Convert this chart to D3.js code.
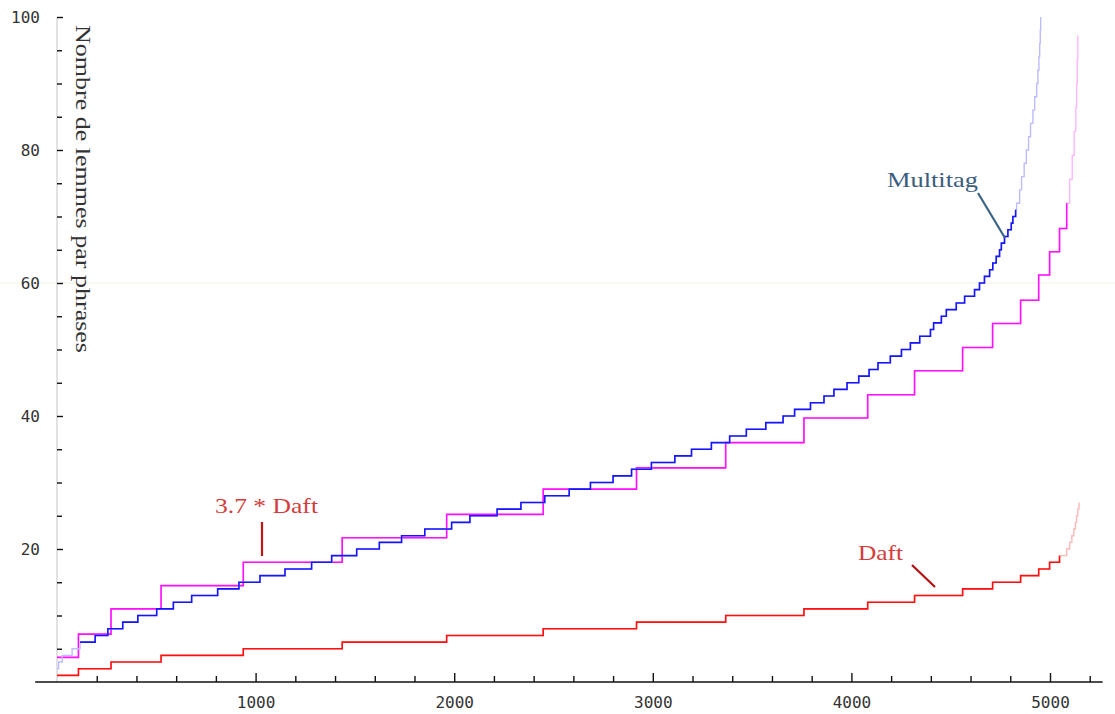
<!DOCTYPE html>
<html>
<head>
<meta charset="utf-8">
<script src="https://cdn.jsdelivr.net/npm/d3@7"></script>
<style>
  html, body { margin: 0; padding: 0; background: #ffffff; }
  svg { display: block; }
</style>
</head>
<body>
<svg id="chart" width="1115" height="714"></svg>
<script>
// ---------------- data ----------------
// x = sentence rank (sorted), y = number of lemmas per sentence; each pair starts a step
const multitagRank = [0, 8, 26, 76, 116, 192, 256, 331, 407, 502, 586, 678, 809, 916, 1022, 1148, 1282, 1383,
  1509, 1623, 1735, 1852, 1987, 2079, 2216, 2336, 2456, 2579, 2686, 2800, 2893, 2993, 3111, 3195, 3295, 3387,
  3471, 3569, 3656, 3714, 3794, 3862, 3912, 3978, 4037, 4089, 4134, 4196, 4252, 4297, 4344, 4398, 4414, 4453,
  4478, 4528, 4570, 4620, 4645, 4670, 4696, 4712, 4729, 4746, 4755, 4771, 4788, 4805, 4813, 4827,
  4832, 4847, 4857, 4870, 4881, 4892, 4902, 4914, 4923, 4933, 4939, 4944, 4948, 4951, 4953];
const multitagLemmas = [2, 3, 4, 5, 6, 7, 8, 9, 10, 11, 12, 13, 14, 15, 16, 17, 18, 19,
  20, 21, 22, 23, 24, 25, 26, 27, 28, 29, 30, 31, 32, 33, 34, 35, 36, 37,
  38, 39, 40, 41, 42, 43, 44, 45, 46, 47, 48, 49, 50, 51, 52, 53, 54, 55,
  56, 57, 58, 59, 60, 61, 62, 63, 64, 65, 66, 67, 68, 69, 70, 71,
  72, 74, 76, 78, 80, 82, 84, 86, 88, 90, 92, 94, 96, 98, 100];

const daftRank = [0, 108, 272, 524, 938, 1436, 1962, 2448, 2918, 3367, 3761, 4082, 4318, 4560, 4711, 4852,
  4943, 4998, 5048, 5084, 5099, 5110, 5120, 5128, 5134, 5140, 5146];
const daftLemmas = [1, 2, 3, 4, 5, 6, 7, 8, 9, 10, 11, 12, 13, 14, 15, 16,
  17, 18, 19, 20, 21, 22, 23, 24, 25, 26, 27];

const scaledRank = [0, 108, 272, 524, 938, 1436, 1962, 2448, 2918, 3367, 3761, 4082, 4318, 4560, 4711, 4852,
  4943, 4998, 5048, 5084, 5099, 5112, 5122, 5130, 5134, 5137, 5140];
const scaledLemmas = [3.7, 7.2, 11.0, 14.5, 18.0, 21.7, 25.2, 29.0, 32.2, 36.0, 39.7, 43.2, 46.8, 50.3, 53.9, 57.4,
  61.2, 64.7, 68.2, 72.0, 75.6, 79.2, 82.8, 86.4, 90.0, 93.6, 97.2];

const xMajorTicks = [1000, 2000, 3000, 4000, 5000];
const xMinorTicks = [200, 400, 600, 800, 1200, 1400, 1600, 1800, 2200, 2400, 2600, 2800, 3200, 3400, 3600, 3800,
  4200, 4400, 4600, 4800, 5200];
const yMajorTicks = [20, 40, 60, 80, 100];
const yMinorTicks = [5, 10, 15, 25, 30, 35, 45, 50, 55, 65, 70, 75, 85, 90, 95];

const yTitle = "Nombre de lemmes par phrases";
const labelMultitag = "Multitag";
const labelScaled = "3.7 * Daft";
const labelDaft = "Daft";

// ---------------- drawing ----------------
const svg = d3.select("#chart");
const x = d3.scaleLinear().domain([0, 5000]).range([57, 1050]);
const y = d3.scaleLinear().domain([0, 100]).range([682, 17]);

// faint guide at 60
svg.append("line")
  .attr("x1", 0).attr("x2", 1115)
  .attr("y1", y(60)).attr("y2", y(60))
  .attr("stroke", "#f1f1e6").attr("stroke-width", 1);

// y axis
const yAxisG = svg.append("g").attr("transform", `translate(${x(0)},0)`);
yAxisG.append("line")
  .attr("x1", 0).attr("x2", 0).attr("y1", y(100)).attr("y2", y(0))
  .attr("stroke", "#d9d9d9").attr("stroke-width", 1.5);
yAxisG.append("g")
  .call(d3.axisLeft(y).tickValues(yMinorTicks).tickSize(-5).tickFormat(""))
  .call(g => g.select(".domain").remove())
  .call(g => g.selectAll("line").attr("stroke", "#111").attr("stroke-width", 1.4));
yAxisG.append("g")
  .call(d3.axisLeft(y).tickValues(yMajorTicks).tickSize(-6).tickPadding(17))
  .call(g => g.select(".domain").remove())
  .call(g => g.selectAll("line").attr("stroke", "#111").attr("stroke-width", 1.4))
  .call(g => g.selectAll("text")
    .attr("font-family", "'DejaVu Sans Mono', monospace")
    .attr("font-size", 16).attr("fill", "#333"));

// x axis
const xAxisG = svg.append("g").attr("transform", `translate(0,${y(0)})`);
xAxisG.append("line")
  .attr("x1", x(-110)).attr("x2", x(5265)).attr("y1", 0).attr("y2", 0)
  .attr("stroke", "#111").attr("stroke-width", 1.6);
xAxisG.append("g")
  .call(d3.axisBottom(x).tickValues(xMinorTicks).tickSize(-6).tickFormat(""))
  .call(g => g.select(".domain").remove())
  .call(g => g.selectAll("line").attr("stroke", "#111").attr("stroke-width", 1.4));
xAxisG.append("g")
  .call(d3.axisBottom(x).tickValues(xMajorTicks).tickSize(-9).tickPadding(15).tickFormat(d3.format("d")))
  .call(g => g.select(".domain").remove())
  .call(g => g.selectAll("line").attr("stroke", "#111").attr("stroke-width", 1.4))
  .call(g => g.selectAll("text")
    .attr("font-family", "'DejaVu Sans Mono', monospace")
    .attr("font-size", 16).attr("fill", "#333"));

// y title
svg.append("text")
  .attr("transform", `translate(76,25) rotate(90)`)
  .attr("font-family", "'Liberation Serif', serif")
  .attr("font-size", 21).attr("fill", "#333")
  .attr("textLength", 328).attr("lengthAdjust", "spacingAndGlyphs")
  .text(yTitle);

// series
const line = d3.line().x(d => x(d[0])).y(d => y(d[1])).curve(d3.curveStepAfter);
function drawSeries(ranks, values, dark, light, darkFrom, darkTo) {
  const pts = ranks.map((r, i) => [r, values[i]]);
  svg.append("path").datum(pts)
    .attr("fill", "none").attr("stroke", light).attr("stroke-width", 1.4)
    .attr("d", line);
  const sub = pts.filter(p => p[0] >= darkFrom && p[0] <= darkTo);
  svg.append("path").datum(sub)
    .attr("fill", "none").attr("stroke", dark).attr("stroke-width", 1.6)
    .attr("d", line);
}
drawSeries(daftRank, daftLemmas, "#ff1010", "#ffb8b8", 0, 5048);
drawSeries(scaledRank, scaledLemmas, "#ff10ff", "#ffb8ff", 0, 5084);
drawSeries(multitagRank, multitagLemmas, "#1515ff", "#bcbcff", 116, 4827);

// annotations
const serif = "'Liberation Serif', serif";
svg.append("text").attr("x", 887).attr("y", 187)
  .attr("font-family", serif).attr("font-size", 21).attr("fill", "#3b5d7e")
  .attr("textLength", 91).attr("lengthAdjust", "spacingAndGlyphs")
  .text(labelMultitag);
svg.append("line").attr("x1", 978).attr("y1", 193).attr("x2", 1005).attr("y2", 238)
  .attr("stroke", "#3a6384").attr("stroke-width", 2.2);

svg.append("text").attr("x", 215).attr("y", 513)
  .attr("font-family", serif).attr("font-size", 21).attr("fill", "#d43c3c")
  .attr("textLength", 103).attr("lengthAdjust", "spacingAndGlyphs")
  .text(labelScaled);
svg.append("line").attr("x1", 262).attr("y1", 522).attr("x2", 262).attr("y2", 556)
  .attr("stroke", "#c41414").attr("stroke-width", 2.2);

svg.append("text").attr("x", 858).attr("y", 560)
  .attr("font-family", serif).attr("font-size", 21).attr("fill", "#d43c3c")
  .attr("textLength", 45).attr("lengthAdjust", "spacingAndGlyphs")
  .text(labelDaft);
svg.append("line").attr("x1", 912).attr("y1", 565).attr("x2", 935).attr("y2", 587)
  .attr("stroke", "#b80f0f").attr("stroke-width", 2.2);
</script>
</body>
</html>
